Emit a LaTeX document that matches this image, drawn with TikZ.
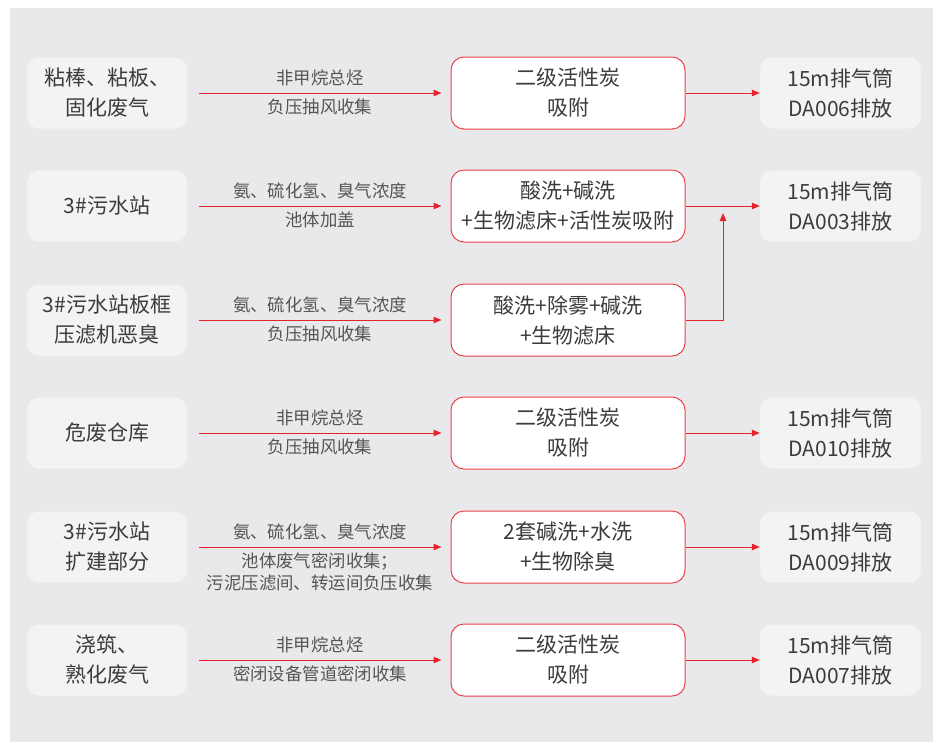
\documentclass[tikz,border=0pt]{standalone}
\usepackage{fontspec}
\newfontfamily\cjk{Noto Sans CJK SC}
\usetikzlibrary{arrows.meta}
\definecolor{bgc}{HTML}{E9E9EB}
\definecolor{boxc}{HTML}{F2F3F3}
\definecolor{redc}{HTML}{E8222B}
\definecolor{redb}{HTML}{E8434B}
\definecolor{txtc}{HTML}{3C3C3C}
\definecolor{lblc}{HTML}{555555}
\tikzset{
  src/.style={rectangle, rounded corners=12pt, fill=boxc, minimum width=160pt, minimum height=71pt, inner sep=0pt, align=center, text=txtc, font=\cjk\fontsize{21}{30}\selectfont},
  proc/.style={rectangle, rounded corners=13pt, fill=white, draw=redb, line width=1pt, minimum width=234pt, minimum height=72pt, inner sep=0pt, align=center, text=txtc, font=\cjk\fontsize{21}{30}\selectfont},
  outb/.style={src, minimum width=161pt},
  lbl/.style={inner sep=0pt, align=center, text=lblc, font=\cjk\fontsize{17.4}{22}\selectfont},
  arr/.style={draw=redc, line width=1pt, -{Triangle[length=8pt,width=6.5pt]}},
}
\begin{document}
\begin{tikzpicture}[x=1pt,y=-1pt]
\useasboundingbox (0,0) rectangle (933,742);
\fill[bgc] (10,8) rectangle (933,742);
% row 1
\node[src] (s1) at (107,93) {粘棒、粘板、\\固化废气};
\node[proc] (p1) at (568,93) {二级活性炭\\吸附};
\node[outb] (o1) at (840.5,93) {15m排气筒\\DA006排放};
\draw[arr, shorten <=12pt, shorten >=9pt] (s1) -- (p1);
\draw[arr] (p1) -- (o1);
\node[lbl] (a1) at (320,78) {非甲烷总烃};
\node[lbl] (b1) at (320,107) {负压抽风收集};
% row 2
\node[src] (s2) at (107,206) {3\#污水站};
\node[proc] (p2) at (568,206) {酸洗+碱洗\\+生物滤床+活性炭吸附};
\node[outb] (o2) at (840.5,206) {15m排气筒\\DA003排放};
\draw[arr, shorten <=12pt, shorten >=9pt] (s2) -- (p2);
\draw[arr] (p2) -- (o2);
\node[lbl] (a2) at (320,191) {氨、硫化氢、臭气浓度};
\node[lbl] (b2) at (320,220) {池体加盖};
% row 3
\node[src] (s3) at (107,320) {3\#污水站板框\\压滤机恶臭};
\node[proc] (p3) at (568,320) {酸洗+除雾+碱洗\\+生物滤床};
\coordinate (j3) at (723,320);
\coordinate (t3) at (723,213);
\draw[arr, shorten <=12pt, shorten >=9pt] (s3) -- (p3);
\draw[arr] (p3.east) -- (j3) -- (t3);
\node[lbl] (a3) at (320,305) {氨、硫化氢、臭气浓度};
\node[lbl] (b3) at (320,334) {负压抽风收集};
% row 4
\node[src] (s4) at (107,433) {危废仓库};
\node[proc] (p4) at (568,433) {二级活性炭\\吸附};
\node[outb] (o4) at (840.5,433) {15m排气筒\\DA010排放};
\draw[arr, shorten <=12pt, shorten >=9pt] (s4) -- (p4);
\draw[arr] (p4) -- (o4);
\node[lbl] (a4) at (320,418) {非甲烷总烃};
\node[lbl] (b4) at (320,447) {负压抽风收集};
% row 5
\node[src] (s5) at (107,547) {3\#污水站\\扩建部分};
\node[proc] (p5) at (568,547) {2套碱洗+水洗\\+生物除臭};
\node[outb] (o5) at (840.5,547) {15m排气筒\\DA009排放};
\draw[arr, shorten <=12pt, shorten >=9pt] (s5) -- (p5);
\draw[arr] (p5) -- (o5);
\node[lbl] (a5) at (320,532) {氨、硫化氢、臭气浓度};
\node[lbl] (b5) at (320,572) {池体废气密闭收集；\\污泥压滤间、转运间负压收集};
% row 6
\node[src] (s6) at (107,660) {浇筑、\\熟化废气};
\node[proc] (p6) at (568,660) {二级活性炭\\吸附};
\node[outb] (o6) at (840.5,660) {15m排气筒\\DA007排放};
\draw[arr, shorten <=12pt, shorten >=9pt] (s6) -- (p6);
\draw[arr] (p6) -- (o6);
\node[lbl] (a6) at (320,645) {非甲烷总烃};
\node[lbl] (b6) at (320,674) {密闭设备管道密闭收集};
\end{tikzpicture}
\end{document}
